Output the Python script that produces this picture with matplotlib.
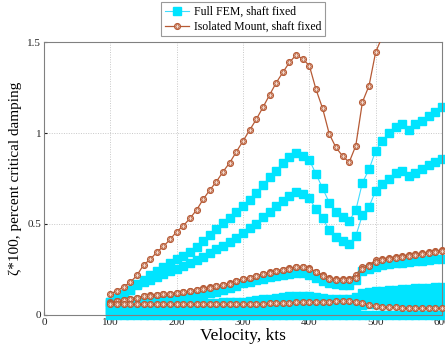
import matplotlib
matplotlib.use("Agg")
import matplotlib.pyplot as plt
import numpy as np

plt.rcParams['font.family'] = ['Liberation Serif', 'DejaVu Serif']
plt.rcParams['mathtext.fontset'] = 'stix'

velocity = [100, 110, 120, 130, 140, 150, 160, 170, 180, 190,
            200, 210, 220, 230, 240, 250, 260, 270, 280, 290,
            300, 310, 320, 330, 340, 350, 360, 370, 380, 390,
            400, 410, 420, 430, 440, 450, 460, 470, 480, 490,
            500, 510, 520, 530, 540, 550, 560, 570, 580, 590, 600]

# Full FEM, shaft fixed (several modes)
fem_1 = [0.07, 0.09, 0.11, 0.14, 0.17, 0.195, 0.22, 0.24, 0.265, 0.285,
         0.305, 0.325, 0.345, 0.375, 0.405, 0.44, 0.475, 0.505, 0.535, 0.565,
         0.60, 0.632, 0.672, 0.714, 0.757, 0.793, 0.833, 0.866, 0.888, 0.874,
         0.852, 0.775, 0.696, 0.618, 0.568, 0.537, 0.518, 0.575, 0.727, 0.80,
         0.903, 0.958, 1.0, 1.035, 1.05, 1.016, 1.05, 1.068, 1.093, 1.117, 1.141]
fem_2 = [0.07, 0.095, 0.115, 0.14, 0.165, 0.18, 0.195, 0.21, 0.225, 0.24,
         0.255, 0.27, 0.285, 0.30, 0.32, 0.34, 0.36, 0.38, 0.40, 0.425,
         0.45, 0.476, 0.50, 0.54, 0.568, 0.599, 0.628, 0.654, 0.677, 0.663,
         0.641, 0.58, 0.531, 0.467, 0.427, 0.408, 0.388, 0.434, 0.549, 0.595,
         0.683, 0.72, 0.75, 0.782, 0.793, 0.764, 0.782, 0.802, 0.824, 0.842, 0.857]
fem_3 = [0.06, 0.065, 0.07, 0.074, 0.078, 0.08, 0.083, 0.086, 0.089, 0.092,
         0.095, 0.099, 0.104, 0.109, 0.114, 0.119, 0.127, 0.136, 0.148, 0.16,
         0.174, 0.183, 0.192, 0.20, 0.208, 0.215, 0.22, 0.225, 0.228, 0.228,
         0.222, 0.205, 0.188, 0.175, 0.168, 0.165, 0.165, 0.19, 0.24, 0.25,
         0.265, 0.272, 0.278, 0.283, 0.287, 0.29, 0.295, 0.298, 0.302, 0.306, 0.31]
fem_4 = [0.045, 0.047, 0.048, 0.05, 0.051, 0.053, 0.054, 0.055, 0.057, 0.058,
         0.059, 0.06, 0.062, 0.063, 0.064, 0.066, 0.067, 0.069, 0.07, 0.072,
         0.074, 0.078, 0.082, 0.086, 0.09, 0.094, 0.098, 0.102, 0.106, 0.105,
         0.102, 0.098, 0.094, 0.09, 0.088, 0.087, 0.088, 0.10, 0.12, 0.126,
         0.13, 0.133, 0.136, 0.139, 0.142, 0.144, 0.147, 0.149, 0.151, 0.154, 0.156]
fem_5 = [0.03, 0.031, 0.032, 0.033, 0.034, 0.035, 0.036, 0.037, 0.038, 0.039,
         0.04, 0.04, 0.041, 0.041, 0.042, 0.042, 0.043, 0.043, 0.044, 0.044,
         0.045, 0.047, 0.048, 0.05, 0.051, 0.052, 0.053, 0.054, 0.055, 0.055,
         0.054, 0.053, 0.052, 0.051, 0.05, 0.05, 0.05, 0.065, 0.085, 0.09,
         0.095, 0.097, 0.099, 0.101, 0.103, 0.105, 0.107, 0.109, 0.111, 0.112, 0.114]
fem_6 = [0.015, 0.015, 0.016, 0.016, 0.017, 0.017, 0.018, 0.018, 0.019, 0.019,
         0.02, 0.02, 0.02, 0.021, 0.021, 0.021, 0.022, 0.022, 0.022, 0.023,
         0.023, 0.024, 0.024, 0.025, 0.025, 0.026, 0.026, 0.027, 0.027, 0.027,
         0.027, 0.027, 0.027, 0.027, 0.027, 0.027, 0.027, 0.04, 0.055, 0.058,
         0.06, 0.062, 0.064, 0.065, 0.066, 0.068, 0.069, 0.07, 0.072, 0.073, 0.075]
fem_7 = [0.0] * 51

# Isolated Mount, shaft fixed (several modes)
iso_1 = [0.117, 0.132, 0.155, 0.18, 0.217, 0.275, 0.305, 0.345, 0.377, 0.415,
         0.458, 0.49, 0.531, 0.577, 0.636, 0.687, 0.733, 0.788, 0.837, 0.897,
         0.956, 1.016, 1.075, 1.141, 1.209, 1.276, 1.333, 1.388, 1.429, 1.407,
         1.37, 1.24, 1.135, 0.995, 0.921, 0.874, 0.839, 0.93, 1.17, 1.26,
         1.445, 1.53, 1.68, 1.82, 1.95, 2.05, 2.15, 2.25, 2.35, 2.45, 2.55]
iso_2 = [0.07, 0.077, 0.082, 0.088, 0.095, 0.103, 0.108, 0.11, 0.114, 0.117,
         0.121, 0.125, 0.132, 0.139, 0.146, 0.152, 0.159, 0.165, 0.174, 0.187,
         0.198, 0.205, 0.214, 0.224, 0.234, 0.243, 0.249, 0.256, 0.262, 0.262,
         0.256, 0.238, 0.22, 0.201, 0.198, 0.198, 0.198, 0.22, 0.265, 0.275,
         0.302, 0.308, 0.315, 0.32, 0.325, 0.33, 0.335, 0.34, 0.345, 0.35, 0.355]
iso_3 = [0.068, 0.075, 0.081, 0.087, 0.094, 0.102, 0.107, 0.11, 0.113, 0.116,
         0.12, 0.124, 0.131, 0.138, 0.145, 0.151, 0.158, 0.164, 0.173, 0.186,
         0.197, 0.204, 0.213, 0.223, 0.233, 0.242, 0.248, 0.255, 0.261, 0.262,
         0.255, 0.235, 0.214, 0.196, 0.19, 0.19, 0.191, 0.205, 0.25, 0.268,
         0.292, 0.3, 0.308, 0.314, 0.319, 0.324, 0.329, 0.334, 0.339, 0.344, 0.349]
iso_4 = [0.058, 0.058, 0.058, 0.059, 0.059, 0.059, 0.059, 0.059, 0.059, 0.06,
         0.06, 0.06, 0.06, 0.06, 0.06, 0.06, 0.06, 0.06, 0.06, 0.06,
         0.061, 0.062, 0.062, 0.063, 0.064, 0.065, 0.066, 0.068, 0.069, 0.07,
         0.07, 0.071, 0.072, 0.074, 0.076, 0.077, 0.077, 0.073, 0.065, 0.056,
         0.05, 0.046, 0.043, 0.042, 0.041, 0.04, 0.04, 0.04, 0.04, 0.04, 0.04]

fem_series = [fem_7, fem_6, fem_5, fem_4, fem_3, fem_2, fem_1]
iso_series = [iso_1, iso_2, iso_3, iso_4]

x_ticks = [0, 100, 200, 300, 400, 500, 600]
y_ticks = [0, 0.5, 1, 1.5]
y_ticklabels = ['0', '0.5', '1', '1.5']

cyan = '#00e4ff'
cyan_line = '#3fdcff'
brown = '#b65a35'

fig = plt.figure(figsize=(4.45, 3.51), dpi=100)
ax = fig.add_axes([0.0989, 0.1026, 0.8944, 0.7777])

fem_handle = None
for s in fem_series:
    h, = ax.plot(velocity, s, '-', color=cyan_line, lw=0.8, marker='s', ms=5.2,
                 mfc=cyan, mec=cyan, clip_on=False, zorder=2)
    fem_handle = h

iso_handles = None
for i, s in enumerate(iso_series):
    clip = (i == 0)
    h1, = ax.plot(velocity, s, '-', color=brown, lw=0.9, marker='o', ms=4.3,
                  mfc='#f3ddd2', mec=brown, mew=0.8, clip_on=clip, zorder=3)
    h2, = ax.plot(velocity, s, 'none', marker='d', ms=3.2,
                  mfc='none', mec=brown, mew=0.6, clip_on=clip, zorder=3)
    if iso_handles is None:
        iso_handles = (h1, h2)

ax.set_xlim(0, 600)
ax.set_ylim(0, 1.5)
ax.set_xticks(x_ticks)
ax.set_yticks(y_ticks)
ax.set_yticklabels(y_ticklabels)
ax.tick_params(direction='in', length=2, labelsize=8, colors='#222222', pad=2)
for sp in ax.spines.values():
    sp.set_color('#808080')
    sp.set_linewidth(0.8)
ax.grid(True, linestyle=(0, (1, 1.5)), color='#c8c8c8', linewidth=0.7)
ax.set_axisbelow(True)

ax.set_xlabel('Velocity, kts', fontsize=12.5, labelpad=1)
ax.set_ylabel('ζ*100, percent critical damping', fontsize=11, labelpad=4)

leg = fig.legend([fem_handle, iso_handles],
                 ['Full FEM, shaft fixed', 'Isolated Mount, shaft fixed'],
                 loc='upper center', bbox_to_anchor=(0.546, 0.993),
                 fontsize=8.5, frameon=True, fancybox=False, edgecolor='#808080',
                 borderpad=0.3, handlelength=2.1, labelspacing=0.25, handletextpad=0.4,
                 borderaxespad=0.0)
leg.get_frame().set_linewidth(0.8)

fig.savefig('out.png', dpi=100)
